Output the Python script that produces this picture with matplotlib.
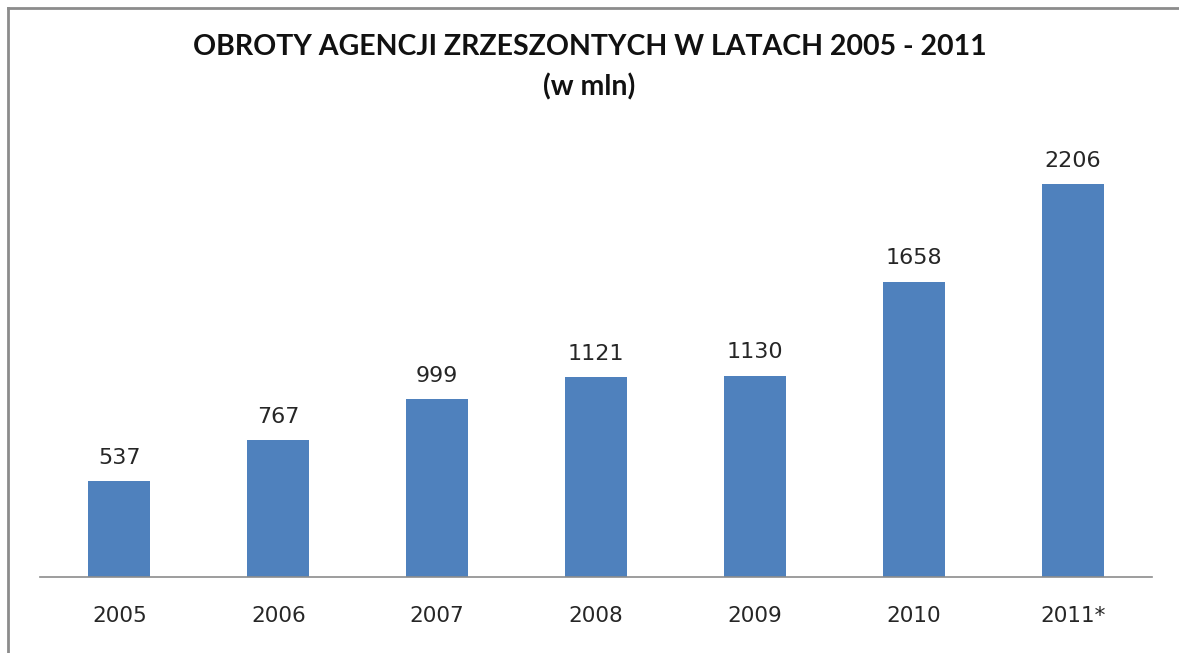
import matplotlib
matplotlib.use("Agg")
import matplotlib.pyplot as plt
from matplotlib.lines import Line2D

years = ["2005", "2006", "2007", "2008", "2009", "2010", "2011*"]
values = [537, 767, 999, 1121, 1130, 1658, 2206]
title_line1 = "OBROTY AGENCJI ZRZESZONTYCH W LATACH 2005 - 2011"
title_line2 = "(w mln)"

W, H = 1179, 653
fig = plt.figure(figsize=(W / 100, H / 100), dpi=100)
fig.patch.set_facecolor("white")

ax = fig.add_axes([40 / W, 76 / H, 1112 / W, 445 / H])
x = list(range(len(years)))
ax.bar(x, values, width=0.39, color="#4F81BD", zorder=2)
ax.set_xlim(-0.5, len(years) - 0.5)
ax.set_ylim(0, 2500)

for xi, v in zip(x, values):
    ax.annotate(str(v), (xi, v), xytext=(0, 17), textcoords="offset points",
                ha="center", va="center", fontsize=16, family="DejaVu Sans",
                color="#262626")

ax.set_xticks(x)
ax.set_xticklabels(years, fontsize=15.5, family="DejaVu Sans", color="#262626")
ax.tick_params(axis="x", length=0, pad=21)
ax.set_yticks([])
for s in ["top", "right", "left"]:
    ax.spines[s].set_visible(False)
ax.spines["bottom"].set_color("#8c8c8c")
ax.spines["bottom"].set_linewidth(1.2)
ax.set_facecolor("none")

fig.text(0.5, 1 - 47 / H, title_line1, ha="center", va="center",
         fontsize=20.5, fontweight="bold", family="Lato", color="#111111")
fig.text(0.5, 1 - 87 / H, title_line2, ha="center", va="center",
         fontsize=20.5, fontweight="bold", family="Lato", color="#111111")

# outer frame (top and left)
fig.add_artist(Line2D([8 / W, 1.0], [1 - 8 / H, 1 - 8 / H], transform=fig.transFigure,
                      color="#8c8c8c", linewidth=2))
fig.add_artist(Line2D([8 / W, 8 / W], [1 - 8 / H, 0], transform=fig.transFigure,
                      color="#8c8c8c", linewidth=2))

fig.savefig("out.png", dpi=100, facecolor="white")
